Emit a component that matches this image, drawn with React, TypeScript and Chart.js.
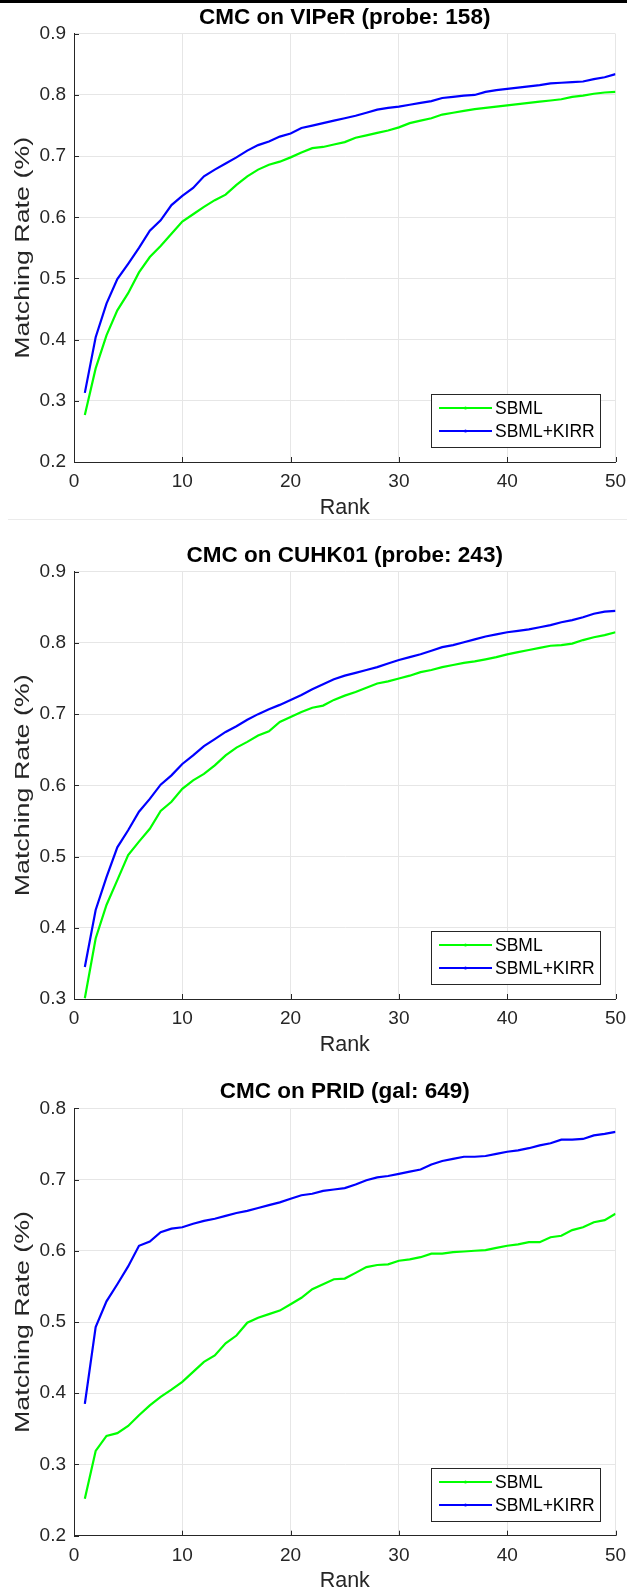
import React, { useEffect, useRef } from 'react';
import { Chart, registerables } from 'chart.js';

Chart.register(...registerables);

// ---------- DATA ----------
const RANKS = [1, 2, 3, 4, 5, 6, 7, 8, 9, 10, 11, 12, 13, 14, 15, 16, 17, 18, 19, 20, 21, 22, 23, 24, 25, 26, 27, 28, 29, 30, 31, 32, 33, 34, 35, 36, 37, 38, 39, 40, 41, 42, 43, 44, 45, 46, 47, 48, 49, 50];
const SERIES_LABELS = ['SBML', 'SBML+KIRR'];
const X_TICKS = [0, 10, 20, 30, 40, 50];
const X_LABEL = 'Rank';
const Y_LABEL = 'Matching Rate (%)';

const VIPER_TITLE = 'CMC on VIPeR (probe: 158)';
const VIPER_Y_TICKS = [0.2, 0.3, 0.4, 0.5, 0.6, 0.7, 0.8, 0.9];
const VIPER_SBML = [0.277, 0.353, 0.407, 0.448, 0.476, 0.51, 0.535, 0.553, 0.573, 0.593, 0.605, 0.617, 0.628, 0.637, 0.653, 0.667, 0.678, 0.686, 0.691, 0.698, 0.706, 0.713, 0.715, 0.719, 0.723, 0.73, 0.734, 0.738, 0.742, 0.747, 0.754, 0.758, 0.762, 0.768, 0.771, 0.774, 0.777, 0.779, 0.781, 0.783, 0.785, 0.787, 0.789, 0.791, 0.793, 0.797, 0.799, 0.802, 0.804, 0.805];
const VIPER_KIRR = [0.313, 0.404, 0.459, 0.499, 0.524, 0.55, 0.578, 0.595, 0.62, 0.635, 0.648, 0.667, 0.678, 0.688, 0.698, 0.709, 0.718, 0.724, 0.732, 0.737, 0.746, 0.75, 0.754, 0.758, 0.762, 0.766, 0.771, 0.776, 0.779, 0.781, 0.784, 0.787, 0.79, 0.795, 0.797, 0.799, 0.8, 0.805, 0.808, 0.81, 0.812, 0.814, 0.816, 0.819, 0.82, 0.821, 0.822, 0.826, 0.829, 0.834];

const CUHK_TITLE = 'CMC on CUHK01 (probe: 243)';
const CUHK_Y_TICKS = [0.3, 0.4, 0.5, 0.6, 0.7, 0.8, 0.9];
const CUHK_SBML = [0.301, 0.385, 0.432, 0.467, 0.502, 0.521, 0.539, 0.564, 0.577, 0.595, 0.607, 0.616, 0.628, 0.642, 0.653, 0.661, 0.67, 0.676, 0.689, 0.696, 0.703, 0.709, 0.712, 0.72, 0.726, 0.731, 0.737, 0.743, 0.746, 0.75, 0.754, 0.759, 0.762, 0.766, 0.769, 0.772, 0.774, 0.777, 0.78, 0.784, 0.787, 0.79, 0.793, 0.796, 0.797, 0.799, 0.804, 0.808, 0.811, 0.815];
const CUHK_KIRR = [0.345, 0.425, 0.471, 0.513, 0.537, 0.563, 0.581, 0.601, 0.614, 0.63, 0.642, 0.655, 0.665, 0.675, 0.683, 0.692, 0.7, 0.707, 0.713, 0.72, 0.727, 0.735, 0.742, 0.749, 0.754, 0.758, 0.762, 0.766, 0.771, 0.776, 0.78, 0.784, 0.789, 0.794, 0.797, 0.801, 0.805, 0.809, 0.812, 0.815, 0.817, 0.819, 0.822, 0.825, 0.829, 0.832, 0.836, 0.841, 0.844, 0.845];

const PRID_TITLE = 'CMC on PRID (gal: 649)';
const PRID_Y_TICKS = [0.2, 0.3, 0.4, 0.5, 0.6, 0.7, 0.8];
const PRID_SBML = [0.252, 0.319, 0.34, 0.344, 0.354, 0.369, 0.383, 0.395, 0.405, 0.416, 0.43, 0.444, 0.453, 0.47, 0.481, 0.499, 0.506, 0.511, 0.516, 0.525, 0.534, 0.546, 0.553, 0.56, 0.561, 0.569, 0.577, 0.58, 0.581, 0.586, 0.588, 0.591, 0.596, 0.596, 0.598, 0.599, 0.6, 0.601, 0.604, 0.607, 0.609, 0.612, 0.612, 0.619, 0.621, 0.629, 0.633, 0.64, 0.643, 0.652];
const PRID_KIRR = [0.385, 0.493, 0.529, 0.553, 0.578, 0.607, 0.613, 0.626, 0.631, 0.633, 0.638, 0.642, 0.645, 0.649, 0.653, 0.656, 0.66, 0.664, 0.668, 0.673, 0.678, 0.68, 0.684, 0.686, 0.688, 0.693, 0.699, 0.703, 0.705, 0.708, 0.711, 0.714, 0.721, 0.726, 0.729, 0.732, 0.732, 0.733, 0.736, 0.739, 0.741, 0.744, 0.748, 0.751, 0.756, 0.756, 0.757, 0.762, 0.764, 0.767];

// ---------- STYLE / LAYOUT ----------
const FONT = '"Liberation Sans", Arial, Helvetica, sans-serif';
const COLORS = ['#00ff00', '#0000ff'];
const AXIS_COLOR = '#262626';
const GRID_COLOR = '#e6e6e6';
const W = 627;

const PANELS = [
  { title: VIPER_TITLE, yTicks: VIPER_Y_TICKS, series: [VIPER_SBML, VIPER_KIRR], top: 0, height: 518, titleC: 17.5, plotTop: 33.8, plotBottom: 462, rankC: 508.5 },
  { title: CUHK_TITLE, yTicks: CUHK_Y_TICKS, series: [CUHK_SBML, CUHK_KIRR], top: 518, height: 537, titleC: 37.5, plotTop: 53.7, plotBottom: 481, rankC: 527.5 },
  { title: PRID_TITLE, yTicks: PRID_Y_TICKS, series: [PRID_SBML, PRID_KIRR], top: 1055, height: 537, titleC: 36.5, plotTop: 53.3, plotBottom: 480.7, rankC: 526.5 },
];

const PLOT_LEFT = 74;
const PLOT_RIGHT = 615.5;
const TICK_FONT = 19;
const LABEL_FONT = 21.5;
const YLABEL_FONT = 20;
const YLABEL_STRETCH = 1.34;
const YLABEL_X = 23;
const TITLE_FONT = 22.5;
const LEGEND_FONT = 17.5;
const X_LABEL_GAP = 8.3;

const decorPlugin = {
  id: 'matlabDecor',
  afterDraw(chart: any) {
    const { ctx, chartArea, scales } = chart;
    const xs = scales.x;
    const ys = scales.y;
    ctx.save();
    // inward tick marks
    ctx.strokeStyle = AXIS_COLOR;
    ctx.lineWidth = 1;
    ctx.beginPath();
    xs.ticks.forEach((t: any) => {
      const px = Math.round(xs.getPixelForValue(t.value)) + 0.5;
      ctx.moveTo(px, chartArea.bottom);
      ctx.lineTo(px, chartArea.bottom - 5);
    });
    ys.ticks.forEach((t: any) => {
      const py = Math.round(ys.getPixelForValue(t.value)) + 0.5;
      ctx.moveTo(chartArea.left, py);
      ctx.lineTo(chartArea.left + 5, py);
    });
    ctx.stroke();

    // y axis label (drawn elongated like the source figure)
    ctx.save();
    ctx.translate(YLABEL_X, (chartArea.top + chartArea.bottom) / 2);
    ctx.rotate(-Math.PI / 2);
    ctx.scale(YLABEL_STRETCH, 1);
    ctx.fillStyle = AXIS_COLOR;
    ctx.font = `${YLABEL_FONT}px ${FONT}`;
    ctx.textAlign = 'center';
    ctx.textBaseline = 'middle';
    ctx.fillText(Y_LABEL, 0, 0);
    ctx.restore();

    // legend (MATLAB style, south-east)
    const boxW = 169;
    const boxH = 53;
    const bx = Math.round(chartArea.right - 16 - boxW);
    const by = Math.round(chartArea.bottom - 15 - boxH);
    ctx.fillStyle = '#ffffff';
    ctx.fillRect(bx, by, boxW, boxH);
    ctx.strokeStyle = AXIS_COLOR;
    ctx.lineWidth = 1;
    ctx.strokeRect(bx + 0.5, by + 0.5, boxW, boxH);
    chart.data.datasets.forEach((ds: any, i: number) => {
      const y = by + 14 + i * 23;
      ctx.strokeStyle = ds.borderColor;
      ctx.lineWidth = 2;
      ctx.beginPath();
      ctx.moveTo(bx + 8, y);
      ctx.lineTo(bx + 61, y);
      ctx.stroke();
      ctx.fillStyle = ds.borderColor;
      ctx.beginPath();
      ctx.arc(bx + 34.5, y, 1.5, 0, Math.PI * 2);
      ctx.fill();
      ctx.fillStyle = '#000000';
      ctx.font = `${LEGEND_FONT}px ${FONT}`;
      ctx.textBaseline = 'middle';
      ctx.textAlign = 'left';
      ctx.fillText(ds.label, bx + 64, y + 1);
    });
    ctx.restore();
  },
};

function Panel({ p }: { p: any }) {
  const ref = useRef<HTMLCanvasElement | null>(null);
  useEffect(() => {
    const canvas = ref.current;
    if (!canvas) return;
    const yMin = p.yTicks[0];
    const yMax = p.yTicks[p.yTicks.length - 1];
    const xAxisH = p.height - p.plotBottom;
    const chart = new Chart(canvas, {
      type: 'line',
      data: {
        datasets: p.series.map((vals: number[], i: number) => ({
          label: SERIES_LABELS[i],
          data: RANKS.map((r, j) => ({ x: r, y: vals[j] })),
          borderColor: COLORS[i],
          backgroundColor: COLORS[i],
          borderWidth: 2.2,
          pointRadius: 0,
          tension: 0,
          fill: false,
        })),
      },
      options: {
        animation: false,
        responsive: false,
        devicePixelRatio: 1,
        events: [],
        layout: { padding: { top: 0, left: 0, right: W - PLOT_RIGHT, bottom: 0 } },
        plugins: {
          legend: { display: false },
          tooltip: { enabled: false },
          title: {
            display: true,
            text: p.title,
            fullSize: false,
            color: '#000000',
            font: { family: FONT, size: TITLE_FONT, weight: 'bold', lineHeight: 1 },
            padding: { top: p.titleC - TITLE_FONT / 2, bottom: p.plotTop - p.titleC - TITLE_FONT / 2 },
          },
        },
        scales: {
          x: {
            type: 'linear',
            min: X_TICKS[0],
            max: X_TICKS[X_TICKS.length - 1],
            afterBuildTicks: (s: any) => { s.ticks = X_TICKS.map((v) => ({ value: v })); },
            afterFit: (s: any) => { s.height = xAxisH; },
            grid: { color: GRID_COLOR, lineWidth: 1, drawTicks: true, tickLength: X_LABEL_GAP, tickColor: 'rgba(0,0,0,0)' },
            border: { display: true, color: AXIS_COLOR, width: 1 },
            ticks: {
              color: AXIS_COLOR,
              padding: 0,
              maxRotation: 0,
              autoSkip: false,
              font: { family: FONT, size: TICK_FONT },
              callback: (v: any) => String(v),
            },
            title: {
              display: true,
              text: X_LABEL,
              color: AXIS_COLOR,
              font: { family: FONT, size: LABEL_FONT, lineHeight: 1 },
              padding: { top: 0, bottom: p.height - p.rankC - LABEL_FONT / 2 },
            },
          },
          y: {
            type: 'linear',
            min: yMin,
            max: yMax,
            afterBuildTicks: (s: any) => { s.ticks = p.yTicks.map((v: number) => ({ value: v })); },
            afterFit: (s: any) => { s.width = PLOT_LEFT; },
            grid: { color: GRID_COLOR, lineWidth: 1, drawTicks: false },
            border: { display: true, color: AXIS_COLOR, width: 1 },
            ticks: {
              color: AXIS_COLOR,
              padding: 8,
              autoSkip: false,
              font: { family: FONT, size: TICK_FONT },
              callback: (v: any) => Number(v).toFixed(1),
            },
            title: { display: false },
          },
        },
      },
      plugins: [decorPlugin],
    } as any);
    return () => chart.destroy();
  }, [p]);
  return (
    <canvas
      ref={ref}
      width={W}
      height={p.height}
      style={{ position: 'absolute', left: 0, top: p.top, width: W, height: p.height }}
    />
  );
}

export default function App() {
  return (
    <div style={{ position: 'absolute', left: 0, top: 0, width: W, height: 1592, background: '#ffffff', overflow: 'hidden' }}>
      {PANELS.map((p, i) => (
        <Panel key={i} p={p} />
      ))}
      <div style={{ position: 'absolute', left: 0, top: 0, width: W, height: 3, background: '#000000' }} />
      <div style={{ position: 'absolute', left: 8, top: 519, width: W - 8, height: 1, background: '#ebebeb' }} />
    </div>
  );
}
